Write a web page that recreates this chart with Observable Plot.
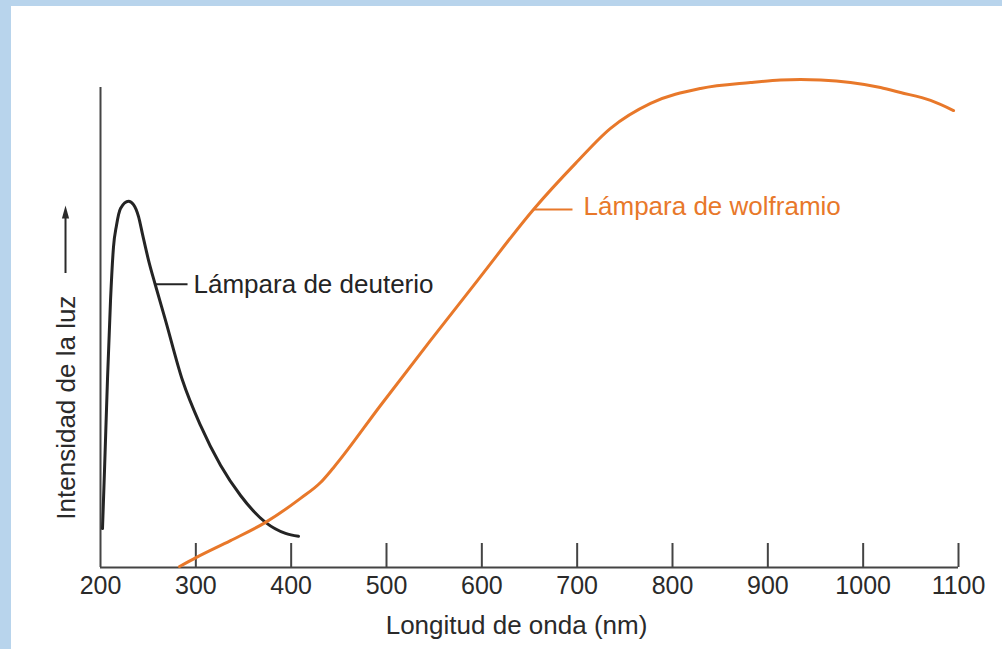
<!DOCTYPE html>
<html><head><meta charset="utf-8">
<script src="https://cdn.jsdelivr.net/npm/d3@7"></script>
<script src="https://cdn.jsdelivr.net/npm/@observablehq/plot@0.6"></script>
<style>
html,body{margin:0;padding:0;background:#fff;width:1002px;height:649px;overflow:hidden;}
#wrap{position:relative;width:1002px;height:649px;}
.band{position:absolute;background:#b8d4ec;}
#chart{position:absolute;left:0;top:0;}
</style></head><body>
<div id="wrap"><div id="chart"></div>
<div class="band" style="left:0;top:0;width:1002px;height:6px"></div>
<div class="band" style="left:0;top:0;width:11px;height:649px"></div></div>
<script>
// Data (wavelength nm, relative intensity)
const deutX = [202.1, 204.2, 207.3, 210.5, 213.6, 216.8, 221.0, 229.4, 234.6, 239.9, 244.1, 250.4, 257.7, 268.2, 286.0, 304.9, 325.9, 346.9, 373.1, 394.1, 407.7];
const deutY = [8.1, 20.2, 39.0, 55.6, 66.7, 71.3, 74.8, 76.3, 75.6, 73.1, 69.4, 64.0, 58.75, 51.5, 39.0, 29.6, 21.3, 15.0, 9.4, 7.1, 6.5];
const wolfX = [282.9, 300.7, 336.4, 373.1, 409.8, 430.8, 444.4, 493.7, 546.2, 598.6, 654.2, 698.3, 735.0, 777.0, 829.4, 881.8, 913.3, 934.3, 955.3, 986.7, 1018.2, 1039.2, 1070.7, 1094.8];
const wolfY = [0.2, 2.1, 5.6, 9.4, 14.4, 17.7, 20.8, 33.75, 47.3, 60.6, 74.6, 84.2, 91.5, 96.7, 99.8, 101.04, 101.56, 101.67, 101.56, 101.04, 100.0, 98.96, 97.3, 95.2];
const xTicks = [200, 300, 400, 500, 600, 700, 800, 900, 1000, 1100];
const seriesNames = ["Lámpara de deuterio", "Lámpara de wolframio"];
const xTitle = "Longitud de onda (nm)";
const yTitle = "Intensidad de la luz";
// annotation anchors (data coordinates)
const leaderX1 = [257.7, 654.2];
const leaderX2 = [291.3, 695.1];
const leaderY = [59.0, 74.6];
const labelX = [297.6, 706.7];
const labelY = [58.85, 75.2];
const yTitleX = [164.3];
const yTitleY = [33.3];
const arrowX = [163.3];
const arrowY1 = [61.25];
const arrowY2 = [73.0];
const arrowTipY = [74.06];

const FONT = "'Liberation Sans', Arial, Helvetica, sans-serif";
const AXIS = "#444";
const BLACK = "#242424";
const ORANGE = "#e8782a";
const colors = [BLACK, ORANGE];

const deut = deutX.map((x, i) => ({x, y: deutY[i]}));
const wolf = wolfX.map((x, i) => ({x, y: wolfY[i]}));
const leaders = leaderX1.map((x1, i) => ({x1, x2: leaderX2[i], y: leaderY[i], c: colors[i]}));
const labels = seriesNames.map((t, i) => ({t, x: labelX[i], y: labelY[i], c: colors[i]}));
const yTitles = [{t: yTitle, x: yTitleX[0], y: yTitleY[0]}];
const arrow = arrowX.map((x, i) => ({x, y1: arrowY1[i], y2: arrowY2[i], tip: arrowTipY[i]}));

const arrowSym = {draw(ctx) { ctx.moveTo(0, -6.5); ctx.lineTo(3.6, 6.5); ctx.lineTo(-3.6, 6.5); ctx.closePath(); }};

const plot = Plot.plot({
  width: 1002, height: 649,
  marginLeft: 100, marginRight: 44, marginTop: 87, marginBottom: 82,
  x: {domain: [200, 1100]},
  y: {domain: [0, 100], axis: null},
  style: {fontFamily: FONT, background: "transparent", color: "#2a2a2a", overflow: "visible"},
  marks: [
    Plot.axisX({ticks: xTicks, tickSize: 0, tickPadding: 9, fontSize: 25, label: null, tickFormat: d => String(d), fill: "#2a2a2a"}),
    Plot.ruleX(xTicks.filter(d => d > 200), {x: d => d, y1: 0, y2: 5, stroke: AXIS, strokeWidth: 2}),
    Plot.ruleY([0], {stroke: AXIS, strokeWidth: 2}),
    Plot.ruleX([200], {stroke: AXIS, strokeWidth: 2}),
    Plot.line(deut, {x: "x", y: "y", curve: "monotone-x", stroke: BLACK, strokeWidth: 3}),
    Plot.line(wolf, {x: "x", y: "y", curve: "monotone-x", stroke: ORANGE, strokeWidth: 3}),
    Plot.link(leaders, {x1: "x1", x2: "x2", y1: "y", y2: "y", stroke: "c", strokeWidth: 2}),
    Plot.text(labels, {x: "x", y: "y", text: "t", fill: "c", textAnchor: "start", lineAnchor: "middle", fontSize: 26}),
    Plot.text([xTitle], {text: d => d, frameAnchor: "bottom", dx: -13, dy: 66, lineAnchor: "bottom", fontSize: 26, fill: "#2a2a2a"}),
    Plot.text(yTitles, {x: "x", y: "y", text: "t", rotate: -90, lineAnchor: "middle", textAnchor: "middle", fontSize: 26, fill: "#2a2a2a"}),
    Plot.ruleX(arrow, {x: "x", y1: "y1", y2: "y2", stroke: "#2a2a2a", strokeWidth: 2}),
    Plot.dot(arrow, {x: "x", y: "tip", symbol: arrowSym, fill: "#2a2a2a", stroke: "none", r: 5})
  ]
});
document.getElementById("chart").appendChild(plot);
</script></body></html>
